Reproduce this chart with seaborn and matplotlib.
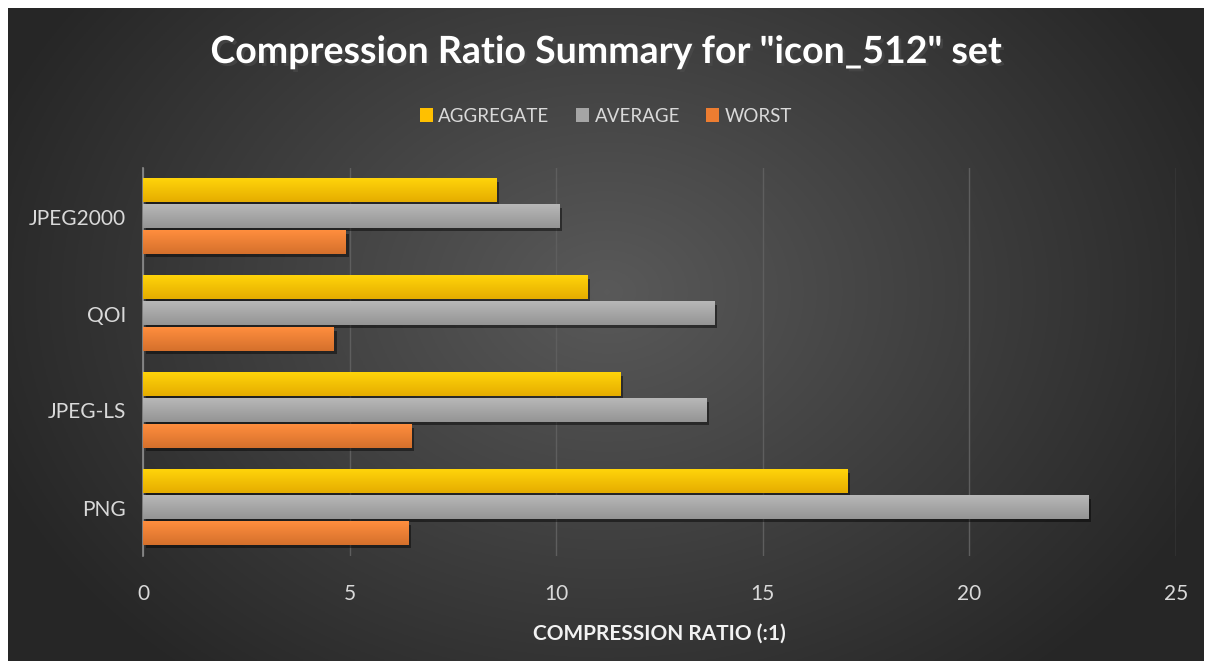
import numpy as np
import pandas as pd
import matplotlib
matplotlib.use("Agg")
import matplotlib.pyplot as plt
import matplotlib.patheffects as pe
from matplotlib.colors import to_rgb
import seaborn as sns

# values
formats = ["JPEG2000", "QOI", "JPEG-LS", "PNG"]
aggregate = [8.55, 10.75, 11.55, 17.05]
average = [10.07, 13.82, 13.63, 22.88]
worst = [4.91, 4.62, 6.49, 6.43]
series = ["AGGREGATE", "AVERAGE", "WORST"]
colors = {"AGGREGATE": "#FFC000", "AVERAGE": "#A5A5A5", "WORST": "#ED7D31"}

df = pd.DataFrame({"format": formats, "AGGREGATE": aggregate,
                   "AVERAGE": average, "WORST": worst})
long_df = df.melt(id_vars="format", var_name="series", value_name="ratio")

plt.rcParams["font.family"] = ["Lato", "DejaVu Sans"]

fig = plt.figure(figsize=(12.12, 6.69), dpi=100, facecolor="white")

# dark radial background inside a thin white frame
bg = fig.add_axes([8 / 1212, 8 / 669, 1 - 16 / 1212, 1 - 16 / 669], zorder=0)
yy, xx = np.mgrid[0:300, 0:600]
d = np.sqrt(((xx - 300) / 330.0) ** 2 + ((yy - 130) / 230.0) ** 2)
shade = np.clip(0.35 - 0.20 * d, 0.15, 0.35)
bg.imshow(np.dstack([shade] * 3), aspect="auto", extent=(0, 1, 0, 1))
bg.axis("off")

ax = fig.add_axes([143 / 1212, 1 - 556 / 669, (1176 - 143) / 1212, (556 - 168) / 669], zorder=1)
ax.patch.set_alpha(0)

sns.barplot(data=long_df, y="format", x="ratio", hue="series", hue_order=series,
            order=formats, palette=colors, orient="h", gap=0.1, ax=ax,
            saturation=1, edgecolor="none", legend=True)

# gradient shading on each bar
for patch in list(ax.patches):
    w, h = patch.get_width(), patch.get_height()
    if w <= 0:
        continue
    x0, y0 = patch.get_x(), patch.get_y()
    base = np.array(to_rgb(patch.get_facecolor()))
    t = np.linspace(0, 1, 32)[:, None]
    light = np.clip(base * 1.05 + 0.04, 0, 1)
    dark = base * 0.90
    grad = light * (1 - t) + dark * t
    patch.set_path_effects([pe.SimplePatchShadow(offset=(2, -2), alpha=0.45, shadow_rgbFace="black"),
                            pe.Normal()])
    ax.imshow(grad[:, None, :], aspect="auto", origin="lower",
              extent=(x0, x0 + w, y0, y0 + h), zorder=3)

ax.set_xlim(0, 25)
ax.set_ylim(3.5, -0.5)
ax.set_xticks(range(0, 26, 5))
ax.grid(axis="x", color="#5e5e5e", linewidth=1)
ax.grid(axis="y", visible=False)
ax.set_axisbelow(True)
for s in ["top", "right", "bottom"]:
    ax.spines[s].set_visible(False)
ax.spines["left"].set_color("#8c8c8c")
ax.spines["left"].set_linewidth(1.2)
ax.tick_params(axis="both", length=0, colors="#d9d9d9", labelsize=15)
ax.tick_params(axis="y", pad=12)
ax.tick_params(axis="x", pad=20)
ax.set_ylabel("")
ax.set_xlabel("COMPRESSION RATIO (:1)", color="#f2f2f2", fontsize=15,
              fontweight="bold", labelpad=14)

handles, labels = ax.get_legend_handles_labels()
ax.legend(handles, labels, loc="center", bbox_to_anchor=(0.5, 1 - 116 / 669),
          bbox_transform=fig.transFigure, ncol=3, frameon=False, fontsize=13.5,
          labelcolor="#d9d9d9", handlelength=0.7, handleheight=0.7,
          handletextpad=0.3, columnspacing=1.4)

fig.text(0.5, 1 - 52 / 669, 'Compression Ratio Summary for "icon_512" set',
         ha="center", va="center", color="white", fontsize=27, fontweight="bold",
         path_effects=[pe.withSimplePatchShadow(offset=(2, -2), alpha=0.6)])

fig.savefig("out.png", dpi=100, facecolor="white")
